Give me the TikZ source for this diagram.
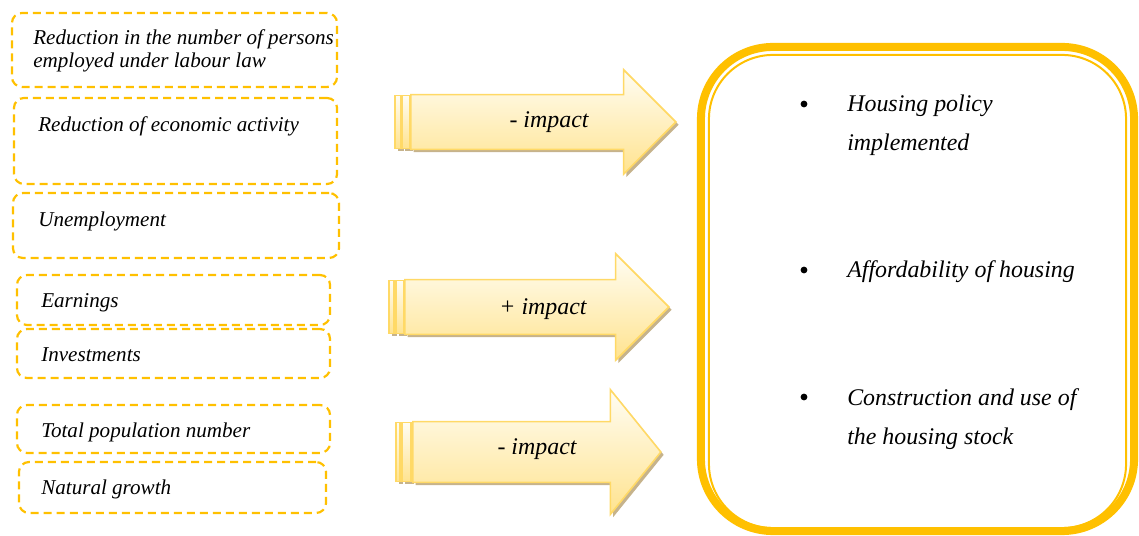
\documentclass[tikz,border=0pt]{standalone}
\usepackage{fontspec}
\setmainfont{Liberation Serif}
\usepackage{tikz}
\usetikzlibrary{calc,shapes.arrows,shadows}

\definecolor{gold}{HTML}{FFC000}
\definecolor{arrowline}{HTML}{FFD966}
\definecolor{arrowtop}{HTML}{FFFDF3}
\definecolor{arrowbottom}{HTML}{FFE38F}
\definecolor{shadowtan}{HTML}{C6B38C}

\begin{document}
\begin{tikzpicture}[
    x=0.025cm, y=-0.025cm,
    factor/.style={draw=gold, line width=0.055cm, dash pattern=on 0.2cm off 0.125cm,
        rounded corners=0.25cm, inner sep=0pt},
    factortext/.style={anchor=base west, inner sep=0pt, align=left,
        font=\fontsize{15}{16.4}\selectfont\itshape},
    impactarrow/.style={single arrow, anchor=tail, draw=arrowline, line width=0.04cm,
        top color=arrowtop, bottom color=arrowbottom, inner xsep=0pt,
        drop shadow={shadow xshift=0.07cm, shadow yshift=-0.07cm, fill=shadowtan, opacity=1}},
    stripe/.style={rectangle, anchor=west, draw=arrowline, line width=0.04cm,
        top color=arrowtop, bottom color=arrowbottom, inner sep=0pt,
        drop shadow={shadow xshift=0.07cm, shadow yshift=-0.07cm, fill=shadowtan, opacity=1}},
    impact/.style={anchor=base, inner sep=0pt, font=\fontsize{17}{20}\selectfont\itshape},
    item/.style={anchor=base west, inner sep=0pt, align=left,
        font=\fontsize{17}{28.4}\selectfont\itshape},
    dot/.style={circle, fill=black, inner sep=0pt, minimum size=0.17cm}
]
    \useasboundingbox (0,0) rectangle (1139,536);

    % Factor boxes
    \node[factor, minimum width=8.125cm, minimum height=1.85cm] (persons) at (174.5,50) {};
    \node[factor, minimum width=8.075cm, minimum height=2.15cm] (activity) at (175.5,141) {};
    \node[factor, minimum width=8.15cm, minimum height=1.625cm] (unemploy) at (176,225.5) {};
    \node[factor, minimum width=7.825cm, minimum height=1.25cm] (earnings) at (173.5,300) {};
    \node[factor, minimum width=7.825cm, minimum height=1.225cm] (invest) at (173.5,353.5) {};
    \node[factor, minimum width=7.825cm, minimum height=1.2cm] (population) at (173.5,429) {};
    \node[factor, minimum width=7.675cm, minimum height=1.275cm] (growth) at (172.5,487.5) {};

    % Factor labels (base = last line)
    \begin{scope}
        \clip (persons.north west) rectangle ([xshift=-0.05cm]persons.south east);
        \node[factortext] (personstext) at (33,68) {Reduction in the number of persons\\employed under labour law};
    \end{scope}
    \node[factortext] (activitytext) at (38,132) {Reduction of economic activity};
    \node[factortext] (unemploytext) at (38,227) {Unemployment};
    \node[factortext] (earningstext) at (41,308) {Earnings};
    \node[factortext] (investtext) at (41,362) {Investments};
    \node[factortext] (populationtext) at (41,438) {Total population number};
    \node[factortext] (growthtext) at (41,495) {Natural growth};

    % Impact arrows
    \node[stripe, minimum width=0.15cm, minimum height=1.325cm] (stripeA1) at (394,122) {};
    \node[stripe, minimum width=0.2cm, minimum height=1.325cm] (stripeA2) at (401,122) {};
    \node[impactarrow, minimum height=6.625cm, inner ysep=0.6625cm,
        single arrow head extend=0.625cm] (arrowA) at (410,122) {};
    \node[impact] (labelA) at (549,128) {- impact};

    \node[stripe, minimum width=0.125cm, minimum height=1.325cm] (stripeB1) at (388,307) {};
    \node[stripe, minimum width=0.2cm, minimum height=1.325cm] (stripeB2) at (395,307) {};
    \node[impactarrow, minimum height=6.6cm, inner ysep=0.6625cm,
        single arrow head extend=0.65cm] (arrowB) at (404,307) {};
    \node[impact] (labelB) at (543,315) {+ impact};

    \node[stripe, minimum width=0.1cm, minimum height=1.475cm] (stripeC1) at (395,452) {};
    \node[stripe, minimum width=0.225cm, minimum height=1.475cm] (stripeC2) at (401,452) {};
    \node[impactarrow, minimum height=6.2cm, inner ysep=0.7375cm,
        single arrow head extend=0.8cm, single arrow tip angle=102] (arrowC) at (412,452) {};
    \node[impact] (labelC) at (537,455) {- impact};

    % Housing box
    \node[draw=gold, line width=0.2cm, rounded corners=1.8cm,
        minimum width=10.825cm, minimum height=12.1cm] (housing) at (917.5,289) {};
    \node[draw=gold, line width=0.05cm, rounded corners=1.6cm,
        minimum width=10.425cm, minimum height=11.825cm] (housinginner) at (917.5,291.5) {};

    % Housing items
    \node[dot] (dotA) at (804,104) {};
    \node[dot] (dotB) at (804,270) {};
    \node[dot] (dotC) at (804,397) {};
    \node[item] (itemA) at (847,151) {Housing policy\\implemented};
    \node[item] (itemB) at (847,278) {Affordability of housing};
    \node[item] (itemC) at (847,445) {Construction and use of\\the housing stock};

\end{tikzpicture}
\end{document}
